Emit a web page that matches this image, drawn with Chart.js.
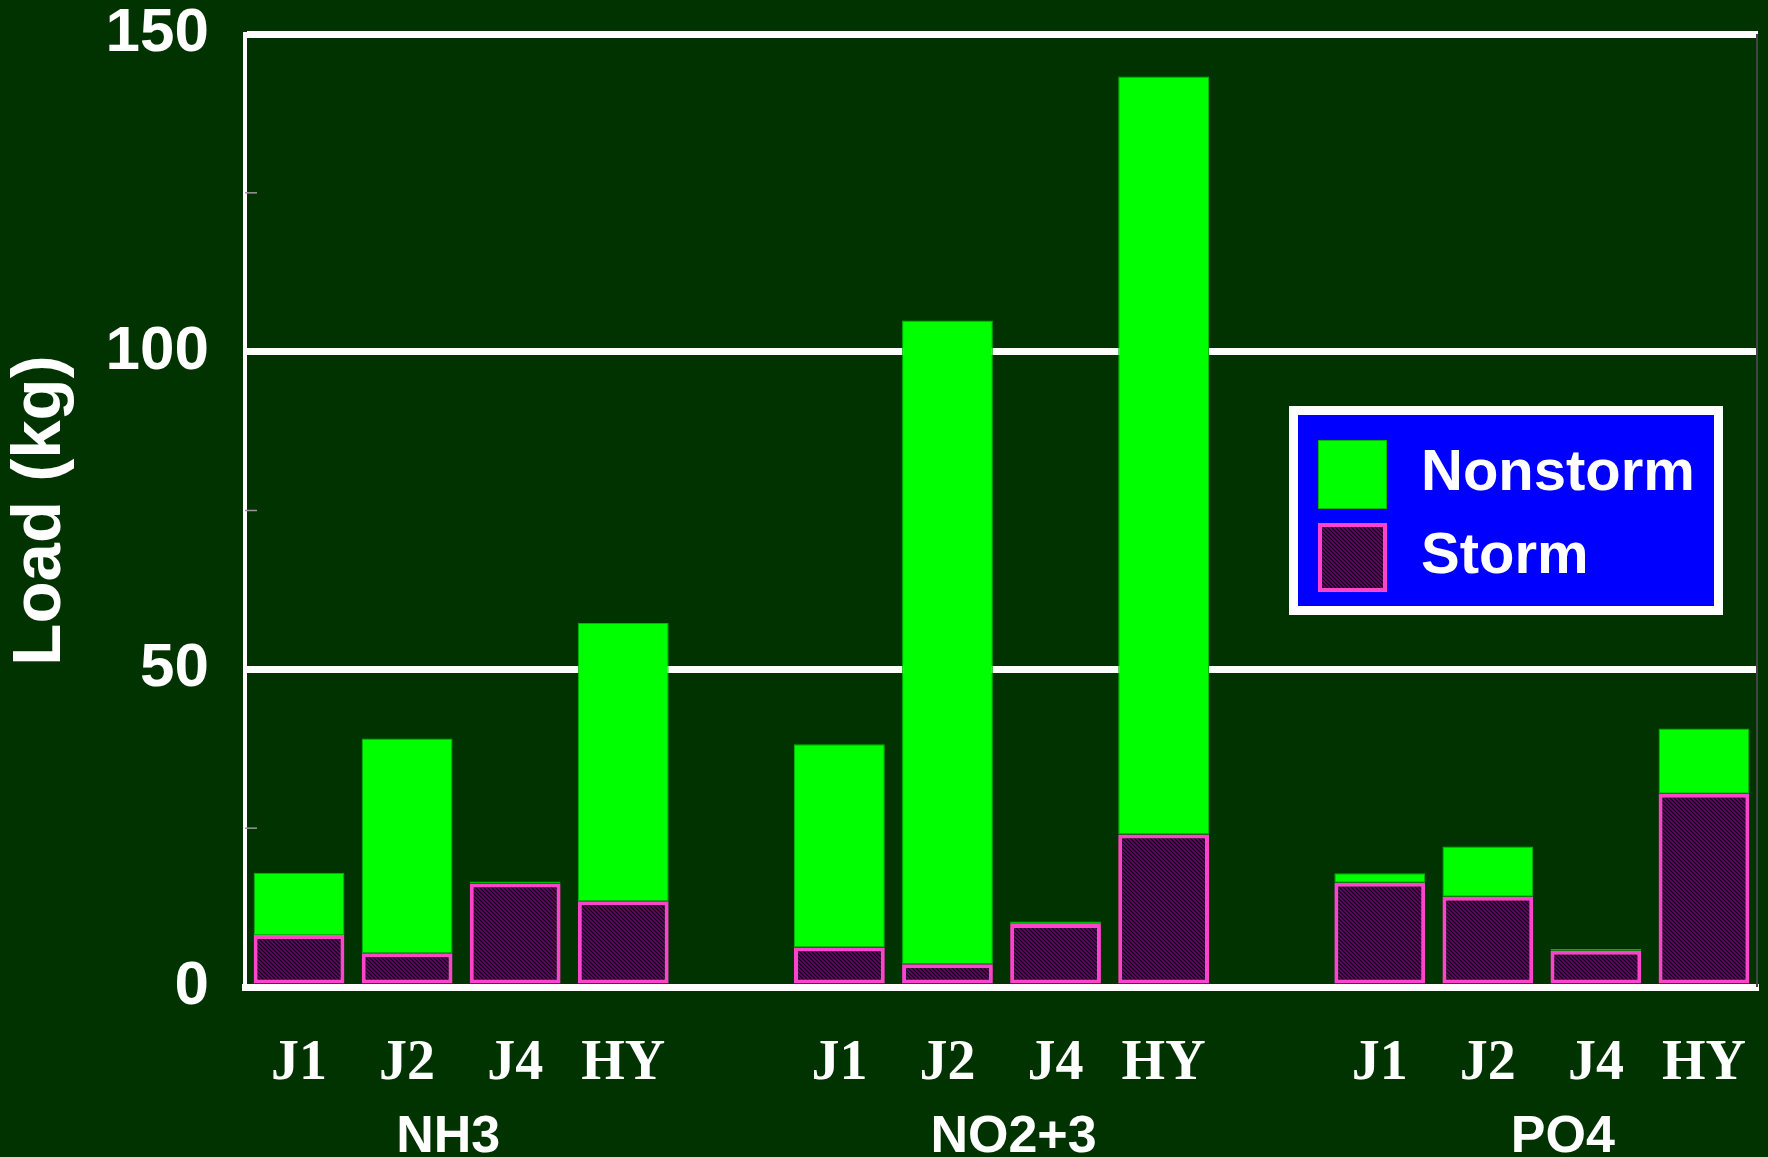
<!DOCTYPE html>
<html>
<head>
<meta charset="utf-8">
<script src="https://cdn.jsdelivr.net/npm/chart.js@4.4.1/dist/chart.umd.min.js"></script>
<style>
  html, body { margin: 0; padding: 0; background: #003300; }
  #wrap { width: 1768px; height: 1157px; }
</style>
</head>
<body>
<div id="wrap"><canvas id="chart" width="1768" height="1157"></canvas></div>
<script>
// Sites per group; blank slots separate the three nutrient groups
const categories = ['J1', 'J2', 'J4', 'HY', '', 'J1', 'J2', 'J4', 'HY', '', 'J1', 'J2', 'J4', 'HY'];
const groupNames = ['NH3', 'NO2+3', 'PO4'];
const groupSlots = [[0, 3], [5, 8], [10, 13]];

// Loads (kg); nonstorm is the part stacked above storm
const stormLoad    = [8.2, 5.3, 16.3, 13.5, null, 6.2, 3.6, 9.9, 24.0, null, 16.4, 14.2, 5.7, 30.4];
const nonstormLoad = [9.8, 33.8, 0.3, 43.8, null, 32.0, 101.3, 0.4, 119.3, null, 1.5, 7.9, 0.3, 10.3];

const yTicks = [0, 25, 50, 75, 100, 125, 150];

const SANS = '"Liberation Sans", Arial, sans-serif';
const SERIF = '"Liberation Serif", "Times New Roman", serif';

// the group captions sit a little off-centre in the original
const groupNudge = [-13, 12, 21];

// fine diagonal hatch for the storm bars
function makeHatch() {
  const c = document.createElement('canvas');
  c.width = 4; c.height = 4;
  const g = c.getContext('2d');
  g.fillStyle = '#5c0c62';
  g.fillRect(0, 0, 4, 4);
  g.strokeStyle = '#120012';
  g.lineWidth = 1.2;
  g.beginPath();
  g.moveTo(-1, -1); g.lineTo(5, 5);
  g.moveTo(-1, 3); g.lineTo(1, 5);
  g.moveTo(3, -1); g.lineTo(5, 1);
  g.stroke();
  return g.createPattern(c, 'repeat');
}
const hatch = makeHatch();

const decorPlugin = {
  id: 'decor',
  beforeDraw(chart) {
    const ctx = chart.ctx;
    ctx.save();
    ctx.fillStyle = '#003300';
    ctx.fillRect(0, 0, chart.width, chart.height);
    ctx.restore();
  },
  afterDraw(chart) {
    const ctx = chart.ctx;
    const area = chart.chartArea;
    const x = chart.scales.x;
    const y = chart.scales.y;
    ctx.save();

    // thin right frame line
    ctx.strokeStyle = '#444';
    ctx.lineWidth = 2;
    ctx.beginPath();
    ctx.moveTo(area.right - 1, area.top);
    ctx.lineTo(area.right - 1, area.bottom);
    ctx.stroke();

    // minor inner ticks
    ctx.strokeStyle = '#999';
    ctx.lineWidth = 1.5;
    yTicks.filter(v => v % 50 !== 0).forEach(v => {
      const py = y.getPixelForValue(v);
      ctx.beginPath();
      ctx.moveTo(area.left, py);
      ctx.lineTo(area.left + 12, py);
      ctx.stroke();
    });

    // group names under the site labels
    ctx.fillStyle = '#ffffff';
    ctx.font = 'bold 52px ' + SANS;
    ctx.textAlign = 'center';
    ctx.textBaseline = 'alphabetic';
    groupNames.forEach((name, i) => {
      const [a, b] = groupSlots[i];
      const cx = (x.getPixelForValue(a) + x.getPixelForValue(b)) / 2 + groupNudge[i];
      ctx.fillText(name, cx, area.bottom + 165);
    });

    // legend box
    const bw = 434, bh = 209;
    const bx = area.right - 35 - bw;
    const by = area.top + 372;
    ctx.fillStyle = '#ffffff';
    ctx.fillRect(bx, by, bw, bh);
    ctx.fillStyle = '#0000ff';
    ctx.fillRect(bx + 9, by + 9, bw - 18, bh - 18);

    const items = [chart.data.datasets[1], chart.data.datasets[0]];
    items.forEach((ds, i) => {
      const sx = bx + 29;
      const sy = by + 34 + i * 83;
      ctx.fillStyle = ds.backgroundColor;
      ctx.fillRect(sx, sy, 69, 69);
      ctx.strokeStyle = ds.borderColor;
      ctx.lineWidth = ds.borderWidth;
      ctx.strokeRect(sx + ds.borderWidth / 2, sy + ds.borderWidth / 2, 69 - ds.borderWidth, 69 - ds.borderWidth);
      ctx.fillStyle = '#ffffff';
      ctx.font = 'bold 58px ' + SANS;
      ctx.textAlign = 'left';
      ctx.textBaseline = 'middle';
      ctx.fillText(ds.label, bx + 132, sy + 34);
    });
    ctx.restore();
  }
};

new Chart(document.getElementById('chart'), {
  type: 'bar',
  data: {
    labels: categories,
    datasets: [
      {
        label: 'Storm',
        data: stormLoad,
        backgroundColor: hatch,
        borderColor: '#ff44cc',
        borderWidth: 4,
        borderSkipped: false,
      },
      {
        label: 'Nonstorm',
        data: nonstormLoad,
        backgroundColor: '#00ff00',
        borderColor: '#00b800',
        borderWidth: 1,
        borderSkipped: false,
      },
    ],
  },
  options: {
    responsive: false,
    animation: false,
    events: [],
    layout: { padding: { left: 0, right: 10, top: 34, bottom: 0 } },
    datasets: { bar: { barPercentage: 0.84, categoryPercentage: 1 } },
    plugins: {
      legend: { display: false },
      tooltip: { enabled: false },
    },
    scales: {
      x: {
        stacked: true,
        grid: { display: false },
        border: { display: true, color: '#ffffff', width: 7 },
        ticks: {
          color: '#ffffff',
          font: { family: SERIF, size: 56, weight: 'bold' },
          padding: 36,
          maxRotation: 0,
          autoSkip: false,
        },
        afterFit(scale) {
          scale.height = 170;
          scale.paddingLeft = 0;
          scale.paddingRight = 0;
        },
      },
      y: {
        stacked: true,
        min: 0,
        max: 150,
        afterBuildTicks(scale) { scale.ticks = yTicks.map(v => ({ value: v })); },
        grid: {
          drawTicks: false,
          lineWidth: 7,
          color: ctx => (ctx.tick && ctx.tick.value > 0 && ctx.tick.value % 50 === 0) ? '#ffffff' : 'rgba(0,0,0,0)',
        },
        border: { display: true, color: '#ffffff', width: 4 },
        ticks: {
          color: '#ffffff',
          font: { family: SANS, size: 62, weight: 'bold', lineHeight: 1 },
          padding: 36,
          callback: v => (v % 50 === 0 ? v : ''),
        },
        title: {
          display: true,
          text: 'Load (kg)',
          color: '#ffffff',
          font: { family: SANS, size: 69, weight: 'bold', lineHeight: 1 },
          padding: { top: 6, bottom: 0 },
        },
        afterFit(scale) {
          scale.width = 245;
          scale.paddingTop = 0;
          scale.paddingBottom = 0;
        },
      },
    },
  },
  plugins: [decorPlugin],
});
</script>
</body>
</html>
